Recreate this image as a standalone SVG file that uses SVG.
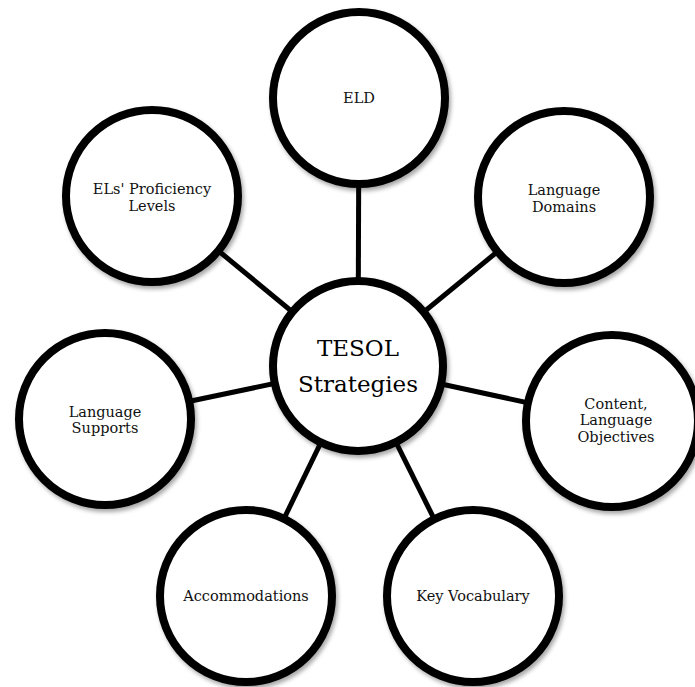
<svg xmlns="http://www.w3.org/2000/svg" width="695" height="687" viewBox="0 0 695 687">
<defs>
<filter id="sh" x="-20%" y="-20%" width="140%" height="140%">
<feDropShadow dx="2" dy="3" stdDeviation="2" flood-color="#000" flood-opacity="0.35"/>
</filter>
<style>
.node circle{fill:#fff;stroke:#000;stroke-width:8;filter:url(#sh)}
.lbl{font-family:"DejaVu Serif","Liberation Serif",serif;font-size:14.5px;fill:#111;text-anchor:middle}
.big{font-family:"DejaVu Serif","Liberation Serif",serif;font-size:23px;fill:#000;text-anchor:middle}
.conn line{stroke:#000;stroke-width:5}
</style>
</defs>
<rect width="695" height="687" fill="#fff"/>
<g id="connectors" class="conn">
<line x1="358" y1="366" x2="359" y2="99"/>
<line x1="358" y1="366" x2="152" y2="196"/>
<line x1="358" y1="366" x2="564" y2="197"/>
<line x1="358" y1="366" x2="105" y2="419"/>
<line x1="358" y1="366" x2="612" y2="421"/>
<line x1="358" y1="366" x2="246" y2="597"/>
<line x1="358" y1="366" x2="473" y2="597"/>
</g>
<g id="eld" class="node"><circle cx="359" cy="98" r="86"/><text class="lbl" x="359" y="103">ELD</text></g>
<g id="proficiency" class="node"><circle cx="152" cy="196" r="86"/><text class="lbl" x="152" y="194">ELs' Proficiency</text><text class="lbl" x="152" y="211">Levels</text></g>
<g id="domains" class="node"><circle cx="564" cy="197" r="86"/><text class="lbl" x="564" y="195">Language</text><text class="lbl" x="564" y="212">Domains</text></g>
<g id="supports" class="node"><circle cx="105" cy="419" r="86"/><text class="lbl" x="105" y="417">Language</text><text class="lbl" x="105" y="433">Supports</text></g>
<g id="objectives" class="node"><circle cx="612" cy="421" r="86"/><text class="lbl" x="616" y="409">Content,</text><text class="lbl" x="616" y="425">Language</text><text class="lbl" x="616" y="442">Objectives</text></g>
<g id="accommodations" class="node"><circle cx="246" cy="596" r="86"/><text class="lbl" x="246" y="601">Accommodations</text></g>
<g id="vocabulary" class="node"><circle cx="473" cy="596" r="86"/><text class="lbl" x="473" y="601">Key Vocabulary</text></g>
<g id="tesol" class="node"><circle cx="358" cy="366" r="85"/><text class="big" x="358" y="356">TESOL</text><text class="big" x="358" y="392">Strategies</text></g>
</svg>
